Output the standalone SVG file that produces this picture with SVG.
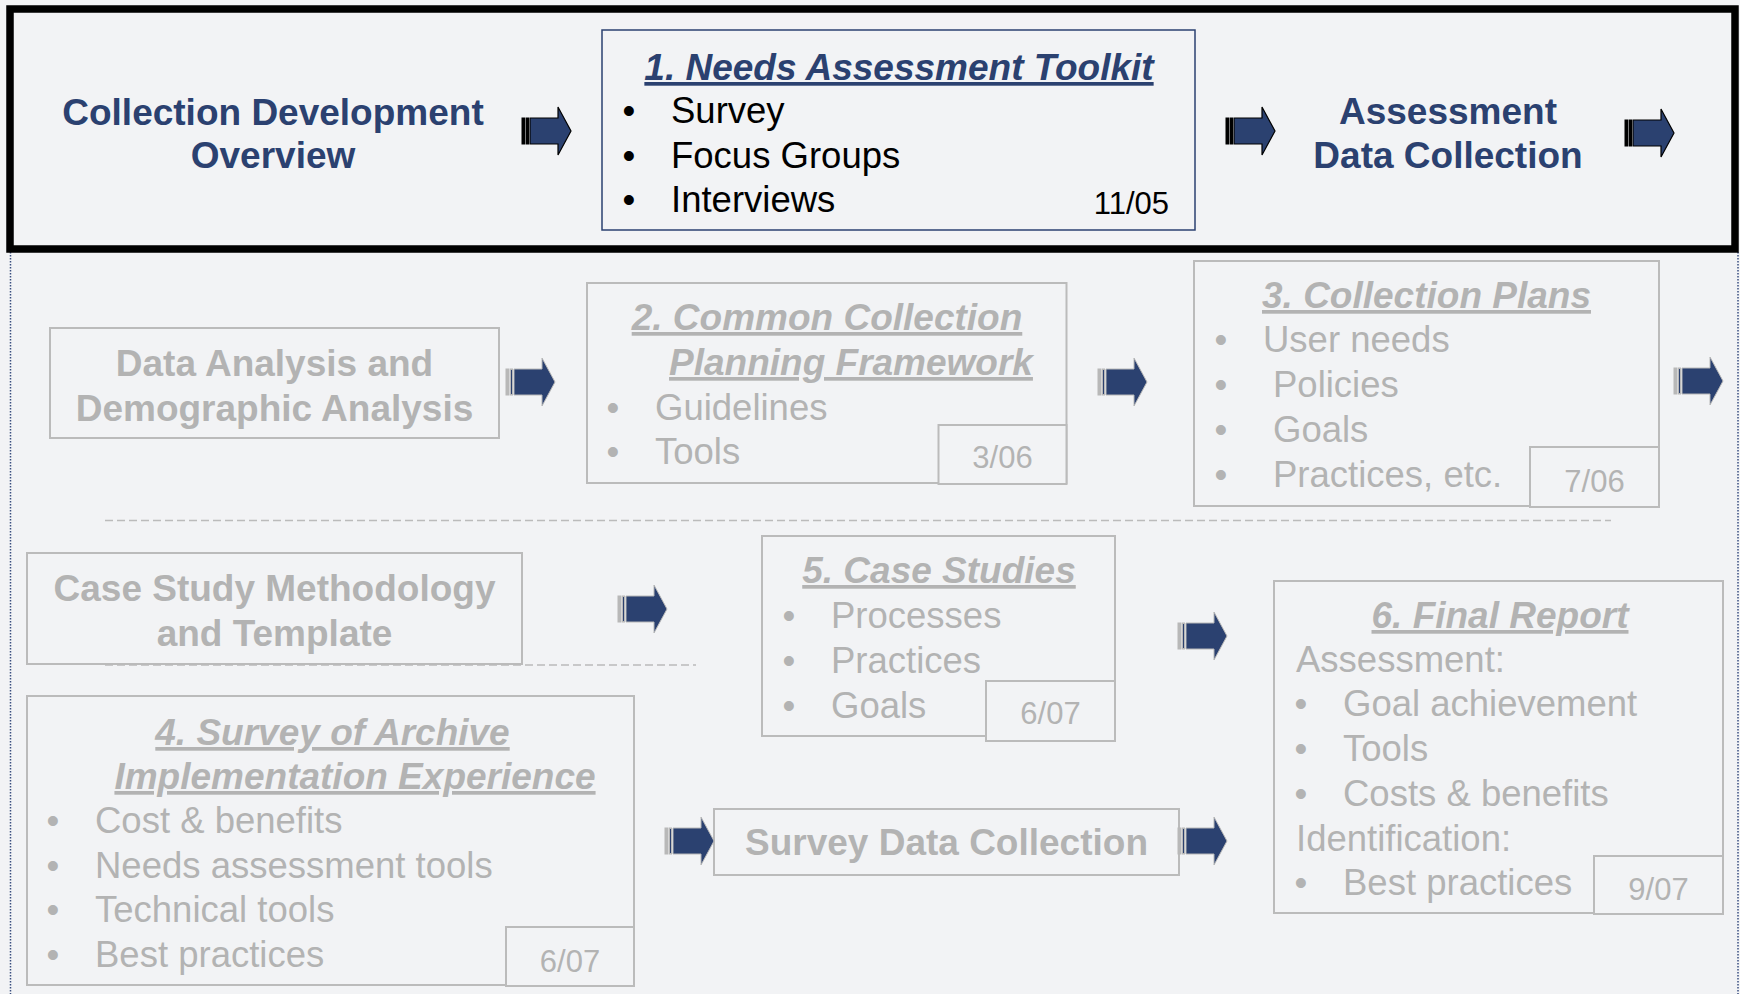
<svg xmlns="http://www.w3.org/2000/svg" xmlns:xlink="http://www.w3.org/1999/xlink" width="1740" height="994" viewBox="0 0 1740 994">
<style>
text{font-family:"Liberation Sans",Arial,sans-serif}
.bb{font-weight:bold;font-size:37px;fill:#2B4170;text-anchor:middle}
.bt{font-weight:bold;font-style:italic;font-size:37px;fill:#2B4170;text-anchor:middle;text-decoration:underline}
.k{font-size:36.5px;fill:#000}
.kd{font-size:31px;fill:#000}
.gb{font-weight:bold;font-size:37px;fill:#B3B3B3;text-anchor:middle}
.gt{font-weight:bold;font-style:italic;font-size:37px;fill:#B3B3B3;text-anchor:middle;text-decoration:underline}
.g{font-size:36.5px;fill:#B3B3B3}
.gd{font-size:31px;fill:#B3B3B3;text-anchor:middle}
.dot{text-anchor:middle}
.gbox{fill:none;stroke:#BBBBBB;stroke-width:2}
.dbox{fill:#F2F3F5;stroke:#BBBBBB;stroke-width:2}
.dash{stroke:#BBBBBB;stroke-width:1.5;stroke-dasharray:8 4;fill:none}
.vdot{stroke:#3A4F80;stroke-width:1.5;stroke-dasharray:1.5 1.5;fill:none}
</style>
<defs>
<g id="arrK">
<rect x="0" y="-13" width="3" height="26" fill="#000" stroke="#000" stroke-width="1"/>
<rect x="4.5" y="-13" width="2" height="26" fill="#000" stroke="#000" stroke-width="1"/>
<path d="M8,-13 H36 V-24 L49,0 L36,24 V13 H8 Z" fill="#2B4170" stroke="#000" stroke-width="1.2"/>
</g>
<g id="arrG">
<rect x="0" y="-13" width="3" height="26" fill="#B8B8B8" stroke="#B8B8B8" stroke-width="1"/>
<rect x="4.5" y="-13" width="2" height="26" fill="#2B4170" stroke="#B8B8B8" stroke-width="1"/>
<path d="M8,-13 H36 V-24 L49,0 L36,24 V13 H8 Z" fill="#2B4170" stroke="#B8B8B8" stroke-width="1"/>
</g>
</defs>
<rect x="0" y="0" width="1740" height="994" fill="#F2F3F5"/>
<line class="vdot" x1="10.5" y1="252" x2="10.5" y2="994"/>
<line class="vdot" x1="1738" y1="252" x2="1738" y2="994"/>
<rect x="10" y="9" width="1725" height="240" fill="none" stroke="#000" stroke-width="7.5"/>

<g id="overview">
<text class="bb" x="273" y="125">Collection Development</text>
<text class="bb" x="273" y="168">Overview</text>
</g>

<g id="needs-assessment">
<rect x="602" y="30" width="593" height="200" fill="none" stroke="#2B4170" stroke-width="1.5"/>
<text class="bt" x="899" y="80">1. Needs Assessment Toolkit</text>
<text class="k dot" x="629" y="123">•</text><text class="k" x="671" y="123">Survey</text>
<text class="k dot" x="629" y="167.5">•</text><text class="k" x="671" y="167.5">Focus Groups</text>
<text class="k dot" x="629" y="212">•</text><text class="k" x="671" y="212">Interviews</text>
<text class="kd" x="1169" y="214" text-anchor="end">11/05</text>
</g>

<g id="assessment-data">
<text class="bb" x="1448" y="124">Assessment</text>
<text class="bb" x="1448" y="168">Data Collection</text>
</g>

<g id="data-analysis">
<rect class="gbox" x="50" y="328" width="449" height="110"/>
<text class="gb" x="274.5" y="376">Data Analysis and</text>
<text class="gb" x="274.5" y="421">Demographic Analysis</text>
</g>

<g id="planning-framework">
<rect class="gbox" x="587" y="283" width="479.5" height="200"/>
<text class="gt" x="827" y="330">2. Common Collection</text>
<text class="gt" x="851" y="375">Planning Framework</text>
<text class="g dot" x="613" y="420">•</text><text class="g" x="655" y="420">Guidelines</text>
<text class="g dot" x="613" y="464">•</text><text class="g" x="655" y="464">Tools</text>
<rect class="dbox" x="938.5" y="425" width="128" height="59"/>
<text class="gd" x="1002.5" y="468">3/06</text>
</g>

<g id="collection-plans">
<rect class="gbox" x="1194" y="261" width="465" height="245"/>
<text class="gt" x="1426.5" y="308">3. Collection Plans</text>
<text class="g dot" x="1221" y="352">•</text><text class="g" x="1263" y="352">User needs</text>
<text class="g dot" x="1221" y="397">•</text><text class="g" x="1273" y="397">Policies</text>
<text class="g dot" x="1221" y="442">•</text><text class="g" x="1273" y="442">Goals</text>
<text class="g dot" x="1221" y="487">•</text><text class="g" x="1273" y="487">Practices, etc.</text>
<rect class="dbox" x="1530" y="447" width="129" height="60"/>
<text class="gd" x="1594.5" y="492">7/06</text>
</g>

<g id="case-study-method">
<rect class="gbox" x="27" y="553" width="495" height="111"/>
<text class="gb" x="274.5" y="601">Case Study Methodology</text>
<text class="gb" x="274.5" y="646">and Template</text>
</g>

<g id="case-studies">
<rect class="gbox" x="762" y="536" width="353" height="200"/>
<text class="gt" x="939" y="583">5. Case Studies</text>
<text class="g dot" x="789" y="628">•</text><text class="g" x="831" y="628">Processes</text>
<text class="g dot" x="789" y="673">•</text><text class="g" x="831" y="673">Practices</text>
<text class="g dot" x="789" y="718">•</text><text class="g" x="831" y="718">Goals</text>
<rect class="dbox" x="986" y="681" width="129" height="60"/>
<text class="gd" x="1050.5" y="724">6/07</text>
</g>

<g id="survey-archive">
<rect class="gbox" x="27" y="696" width="607" height="289"/>
<text class="gt" x="332.5" y="745">4. Survey of Archive</text>
<text class="gt" x="355" y="789">Implementation Experience</text>
<text class="g dot" x="53" y="833">•</text><text class="g" x="95" y="833">Cost &amp; benefits</text>
<text class="g dot" x="53" y="878">•</text><text class="g" x="95" y="878">Needs assessment tools</text>
<text class="g dot" x="53" y="922">•</text><text class="g" x="95" y="922">Technical tools</text>
<text class="g dot" x="53" y="967">•</text><text class="g" x="95" y="967">Best practices</text>
<rect class="dbox" x="506" y="927" width="128" height="59"/>
<text class="gd" x="570" y="972">6/07</text>
</g>

<g id="survey-data">
<rect class="gbox" x="714" y="809" width="465" height="66"/>
<text class="gb" x="946.5" y="855">Survey Data Collection</text>
</g>

<g id="final-report">
<rect class="gbox" x="1274" y="581" width="449" height="332"/>
<text class="gt" x="1500" y="628">6. Final Report</text>
<text class="g" x="1296" y="672">Assessment:</text>
<text class="g dot" x="1301" y="716">•</text><text class="g" x="1343" y="716">Goal achievement</text>
<text class="g dot" x="1301" y="761">•</text><text class="g" x="1343" y="761">Tools</text>
<text class="g dot" x="1301" y="806">•</text><text class="g" x="1343" y="806">Costs &amp; benefits</text>
<text class="g" x="1296" y="851">Identification:</text>
<text class="g dot" x="1301" y="895">•</text><text class="g" x="1343" y="895">Best practices</text>
<rect class="dbox" x="1594" y="856" width="129" height="58"/>
<text class="gd" x="1658.5" y="900">9/07</text>
</g>

<g id="connectors">
<line class="dash" x1="105" y1="520.5" x2="1611" y2="520.5"/>
<line class="dash" x1="105" y1="665" x2="696" y2="665"/>
<use xlink:href="#arrK" href="#arrK" x="522" y="131"/>
<use xlink:href="#arrK" href="#arrK" x="1226" y="131"/>
<use xlink:href="#arrK" href="#arrK" x="1625" y="133"/>
<use xlink:href="#arrG" href="#arrG" x="506" y="382"/>
<use xlink:href="#arrG" href="#arrG" x="1098" y="382"/>
<use xlink:href="#arrG" href="#arrG" x="1674" y="381"/>
<use xlink:href="#arrG" href="#arrG" x="618" y="609"/>
<use xlink:href="#arrG" href="#arrG" x="1178" y="636"/>
<use xlink:href="#arrG" href="#arrG" x="665" y="841"/>
<use xlink:href="#arrG" href="#arrG" x="1178" y="841"/>
</g>
</svg>
